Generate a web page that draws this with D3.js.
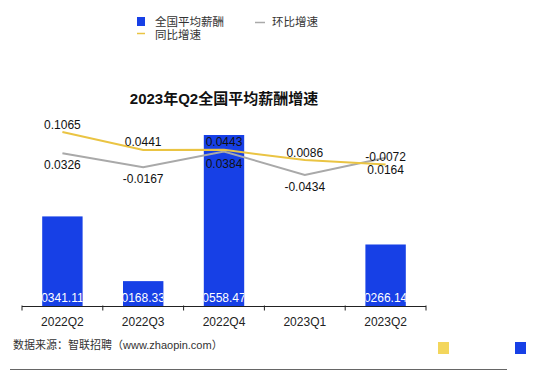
<!DOCTYPE html>
<html>
<head>
<meta charset="utf-8">
<title>2023年Q2全国平均薪酬增速</title>
<script src="https://d3js.org/d3.v7.min.js"></script>
<style>
    body { margin: 0; background: #fff; }
    svg text { font-family: "Liberation Sans", Arial, "Noto Sans CJK SC", sans-serif; }
</style>
</head>
<body>
<svg id="chart"></svg>
<script>
    // data
    const quarters = ["2022Q2", "2022Q3", "2022Q4", "2023Q1", "2023Q2"];
    const salary = [10341.117, 10168.334, 10558.478, 10100.582, 10266.145];
    const yoy = [0.1065, 0.0441, 0.0443, 0.0086, -0.0072];   // 同比增速
    const qoq = [0.0326, -0.0167, 0.0384, -0.0434, 0.0164];  // 环比增速

    const width = 550, height = 392;
    const blue = "#1740e6", yellow = "#eac443", grey = "#a9a9a9";

    const svg = d3.select("#chart")
        .attr("width", width)
        .attr("height", height);

    // category axis
    const x = d3.scaleBand()
        .domain(quarters)
        .range([22, 426])
        .padding(0);
    const baseY = 306.5;

    // bars (axis starts at the lowest value)
    const yBar = d3.scaleLinear()
        .domain([d3.min(salary), d3.max(salary)])
        .range([baseY, 135]);

    // growth lines share one scale
    const yLine = d3.scaleLinear()
        .domain([d3.min(qoq), d3.max(yoy)])
        .range([175, 132]);

    const barW = x.bandwidth() * 0.5;

    const defs = svg.append("defs");
    quarters.forEach((q, i) => {
        defs.append("clipPath").attr("id", "clip" + i)
            .append("rect")
            .attr("x", x(q) + (x.bandwidth() - barW) / 2)
            .attr("y", yBar(salary[i]))
            .attr("width", barW)
            .attr("height", baseY - yBar(salary[i]));
    });

    svg.selectAll(".bar")
        .data(salary)
        .enter()
        .append("rect")
        .attr("class", "bar")
        .attr("x", (d, i) => x(quarters[i]) + (x.bandwidth() - barW) / 2)
        .attr("y", d => yBar(d))
        .attr("width", barW)
        .attr("height", d => baseY - yBar(d))
        .attr("fill", blue);

    // white labels inside the bars, cut off at the bar edges
    svg.selectAll(".barlabel")
        .data(salary)
        .enter()
        .append("text")
        .attr("clip-path", (d, i) => "url(#clip" + i + ")")
        .attr("x", (d, i) => x(quarters[i]) + x.bandwidth() / 2)
        .attr("y", 302)
        .attr("text-anchor", "middle")
        .attr("font-size", 12)
        .attr("fill", "#fff")
        .text(d => d.toFixed(3));

    // x axis
    svg.append("line")
        .attr("x1", 22).attr("x2", 426)
        .attr("y1", baseY).attr("y2", baseY)
        .attr("stroke", "#222").attr("stroke-width", 1);
    const edges = quarters.map(q => x(q)).concat([x(quarters[quarters.length - 1]) + x.bandwidth()]);
    svg.selectAll(".tick")
        .data(edges)
        .enter()
        .append("line")
        .attr("x1", d => d).attr("x2", d => d)
        .attr("y1", baseY - 1).attr("y2", baseY + 4)
        .attr("stroke", "#222");
    svg.selectAll(".xlabel")
        .data(quarters)
        .enter()
        .append("text")
        .attr("x", d => x(d) + x.bandwidth() / 2)
        .attr("y", 326)
        .attr("text-anchor", "middle")
        .attr("font-size", 12)
        .attr("fill", "#222")
        .text(d => d);

    // lines
    const line = d3.line()
        .x((d, i) => x(quarters[i]) + x.bandwidth() / 2)
        .y(d => yLine(d));

    svg.append("path").datum(qoq)
        .attr("d", line)
        .attr("fill", "none")
        .attr("stroke", grey)
        .attr("stroke-width", 2);
    svg.append("path").datum(yoy)
        .attr("d", line)
        .attr("fill", "none")
        .attr("stroke", yellow)
        .attr("stroke-width", 2);

    // line labels: yoy above, qoq below
    svg.selectAll(".yoylabel")
        .data(yoy)
        .enter()
        .append("text")
        .attr("x", (d, i) => x(quarters[i]) + x.bandwidth() / 2)
        .attr("y", d => yLine(d) - 3.5)
        .attr("text-anchor", "middle")
        .attr("font-size", 12)
        .attr("fill", "#111")
        .text(d => d.toFixed(4));
    svg.selectAll(".qoqlabel")
        .data(qoq)
        .enter()
        .append("text")
        .attr("x", (d, i) => x(quarters[i]) + x.bandwidth() / 2)
        .attr("y", d => yLine(d) + 16)
        .attr("text-anchor", "middle")
        .attr("font-size", 12)
        .attr("fill", "#111")
        .text(d => d.toFixed(4));

    // title
    svg.append("text")
        .attr("x", 224)
        .attr("y", 104)
        .attr("text-anchor", "middle")
        .attr("font-size", 15)
        .attr("font-weight", "bold")
        .attr("fill", "#111")
        .text("2023年Q2全国平均薪酬增速");

    // legend
    const legend = svg.append("g").attr("font-size", 11.5).attr("fill", "#333");
    legend.append("rect").attr("x", 137).attr("y", 17).attr("width", 8).attr("height", 9).attr("fill", blue);
    legend.append("text").attr("x", 155).attr("y", 26).text("全国平均薪酬");
    legend.append("line").attr("x1", 255).attr("x2", 265).attr("y1", 22.5).attr("y2", 22.5)
        .attr("stroke", grey).attr("stroke-width", 1.5);
    legend.append("text").attr("x", 272).attr("y", 26).text("环比增速");
    legend.append("line").attr("x1", 137).attr("x2", 145).attr("y1", 33.5).attr("y2", 33.5)
        .attr("stroke", yellow).attr("stroke-width", 1.5);
    legend.append("text").attr("x", 155).attr("y", 39).text("同比增速");

    // source note and footer
    svg.append("text")
        .attr("x", 13)
        .attr("y", 349)
        .attr("font-size", 11)
        .attr("fill", "#333")
        .text("数据来源：智联招聘（www.zhaopin.com）");
    svg.append("line")
        .attr("x1", 10).attr("x2", 507)
        .attr("y1", 369.5).attr("y2", 369.5)
        .attr("stroke", "#666").attr("stroke-width", 1);
    svg.append("rect").attr("x", 438).attr("y", 342).attr("width", 11).attr("height", 12).attr("fill", "#f3d65c");
    svg.append("rect").attr("x", 515).attr("y", 342).attr("width", 11).attr("height", 12).attr("fill", blue);
</script>
</body>
</html>
